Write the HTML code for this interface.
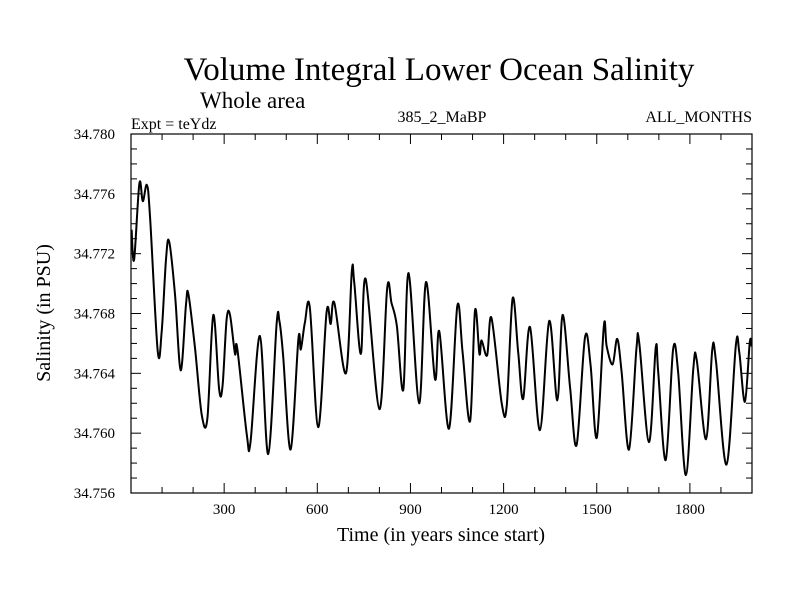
<!DOCTYPE html>
<html><head><meta charset="utf-8"><style>
body{margin:0;background:#fff;}
svg text{font-family:"Liberation Serif",serif;fill:#000;}
</style></head><body>
<svg id="chart" width="800" height="600" viewBox="0 0 800 600">
<text x="439" y="80" font-size="33" text-anchor="middle">Volume Integral Lower Ocean Salinity</text>
<text x="200" y="108" font-size="23">Whole area</text>
<text x="131" y="129" font-size="16">Expt = teYdz</text>
<text x="442" y="122" font-size="16" text-anchor="middle">385_2_MaBP</text>
<text x="752" y="122" font-size="16" text-anchor="end">ALL_MONTHS</text>
<text x="441" y="541" font-size="20" text-anchor="middle">Time (in years since start)</text>
<text transform="translate(50,313) rotate(-90)" font-size="20" text-anchor="middle">Salinity (in PSU)</text>
<g id="axes"></g>
<rect x="131" y="134" width="621" height="359" fill="none" stroke="#000" stroke-width="1.2"/>
<path id="series" fill="none" stroke="#000" stroke-width="2" stroke-linejoin="round"/>
</svg>
<script>
const years=[2,10,27,38,51,61,86,99,113,123,142,160,177,185,206,228,246,265,284,295,308,319,335,342,373,385,415,442,469,478,490,514,539,547,560,576,603,630,643,655,692,711,719,740,756,800,825,839,856,877,894,928,950,979,993,1024,1051,1068,1092,1108,1122,1129,1147,1161,1194,1210,1229,1247,1263,1285,1317,1347,1373,1390,1414,1435,1462,1480,1500,1523,1532,1551,1566,1580,1604,1628,1637,1668,1690,1698,1722,1746,1762,1787,1811,1822,1852,1872,1884,1918,1948,1959,1977,1993,1999];
const salinity=[34.7736,34.7716,34.7767,34.7755,34.7766,34.7746,34.7655,34.7668,34.7717,34.7728,34.7692,34.7642,34.7686,34.7693,34.7657,34.7612,34.7610,34.7679,34.7629,34.7632,34.7676,34.7679,34.7653,34.7657,34.7599,34.7594,34.7665,34.7586,34.7673,34.7675,34.7652,34.7589,34.7663,34.7656,34.7674,34.7684,34.7604,34.7681,34.7673,34.7687,34.7640,34.7708,34.7701,34.7653,34.7703,34.7616,34.7697,34.7687,34.7672,34.7629,34.7707,34.7620,34.7701,34.7636,34.7668,34.7603,34.7685,34.7654,34.7608,34.7682,34.7653,34.7662,34.7652,34.7677,34.7620,34.7618,34.7690,34.7654,34.7623,34.7671,34.7602,34.7675,34.7622,34.7679,34.7631,34.7592,34.7664,34.7646,34.7597,34.7672,34.7658,34.7646,34.7663,34.7641,34.7589,34.7657,34.7660,34.7594,34.7657,34.7641,34.7582,34.7656,34.7641,34.7572,34.7643,34.7649,34.7596,34.7656,34.7648,34.7579,34.7659,34.7654,34.7621,34.7661,34.7658];
const xTicks=[300,600,900,1200,1500,1800];
const yTicks=[34.756,34.760,34.764,34.768,34.772,34.776,34.780];
const X0=131,X1=752,Y0=493,Y1=134;
const sx=v=>X0+(v-0)/(2000-0)*(X1-X0);
const sy=v=>Y0-(v-34.756)/(34.780-34.756)*(Y0-Y1);
const NS="http://www.w3.org/2000/svg";
const axes=document.getElementById('axes');
function line(x1,y1,x2,y2,name){const l=document.createElementNS(NS,'line');
l.setAttribute('x1',x1);l.setAttribute('y1',y1);l.setAttribute('x2',x2);l.setAttribute('y2',y2);
l.setAttribute('stroke','#000');l.setAttribute('stroke-width','1');


axes.appendChild(l);}
for(let v=100;v<2000;v+=100){const x=sx(v);const len=(v%300===0)?10:6;
line(x,Y0,x,Y0-len,'x-tick');line(x,Y1,x,Y1+len,'x-tick');}
for(let i=0;i<=24;i++){const y=Y0-i*(Y0-Y1)/24;const len=(i%4===0)?10:6;
line(X0,y,X0+len,y,'y-tick');line(X1,y,X1-len,y,'y-tick');}
xTicks.forEach(v=>{const t=document.createElementNS(NS,'text');
t.setAttribute('x',sx(v));t.setAttribute('y',Y0+21);t.setAttribute('font-size','15');t.setAttribute('text-anchor','middle');
t.textContent=v;


axes.appendChild(t);});
yTicks.forEach(v=>{const t=document.createElementNS(NS,'text');
t.setAttribute('x',X0-16);t.setAttribute('y',sy(v)+5);t.setAttribute('font-size','15');t.setAttribute('text-anchor','end');
t.textContent=v.toFixed(3);


axes.appendChild(t);});
const P=years.map((y,i)=>[sx(y),sy(salinity[i])]);
let d='M'+P[0][0].toFixed(1)+','+P[0][1].toFixed(1);
for(let i=0;i<P.length-1;i++){const p0=P[Math.max(0,i-1)],p1=P[i],p2=P[i+1],p3=P[Math.min(P.length-1,i+2)];
const c1=[p1[0]+(p2[0]-p0[0])/6,p1[1]+(p2[1]-p0[1])/6],c2=[p2[0]-(p3[0]-p1[0])/6,p2[1]-(p3[1]-p1[1])/6];
d+='C'+c1.map(v=>v.toFixed(1)).join(',')+' '+c2.map(v=>v.toFixed(1)).join(',')+' '+p2.map(v=>v.toFixed(1)).join(',');}
document.getElementById('series').setAttribute('d',d);
</script>
</body></html>
